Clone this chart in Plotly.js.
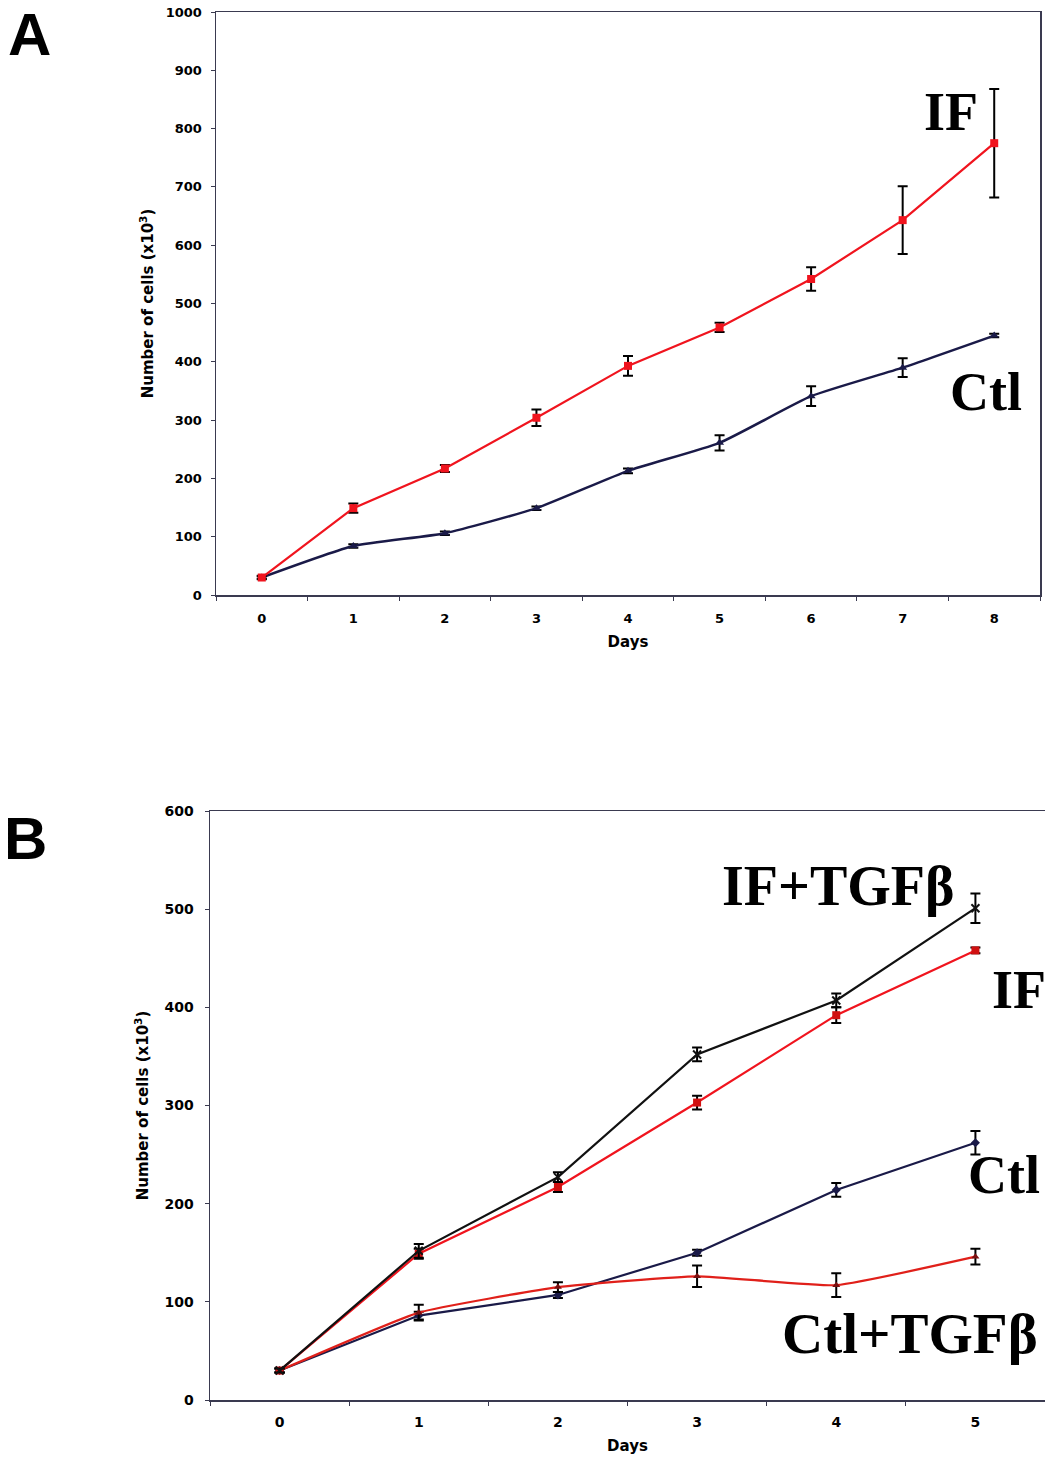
<!DOCTYPE html>
<html>
<head>
<meta charset="utf-8">
<script src="https://cdn.plot.ly/plotly-3.0.1.min.js"></script>
<style>
html,body{margin:0;padding:0;background:#fff;}
#chart{width:1045px;height:1458px;}
</style>
</head>
<body>
<div id="chart"></div>
<script>
// ---------- Data ----------
const daysA = [0, 1, 2, 3, 4, 5, 6, 7, 8];
const ifA = [30, 149, 217, 304, 393, 459, 542, 643, 775];
const ifAErr = [3, 8, 6, 14, 17, 8, 20, 58, 93];
const ctlA = [30, 84, 106, 149, 213, 261, 341, 390, 445];
const ctlAErr = [2, 3, 3, 3, 4, 13, 17, 16, 3];

const daysB = [0, 1, 2, 3, 4, 5];
const ifTgfB = [30, 152, 227, 352, 407, 501];
const ifTgfBErr = [2, 7, 5, 7, 7, 15];
const ifB = [30, 149, 217, 303, 392, 458];
const ifBErr = [2, 5, 5, 7, 8, 3];
const ctlB = [30, 86, 107, 150, 214, 262];
const ctlBErr = [2, 4, 3, 3, 7, 12];
const ctlTgfB = [30, 89, 115, 126, 117, 146];
const ctlTgfBErr = [2, 8, 5, 11, 12, 8];

const xTickA = ['0','1','2','3','4','5','6','7','8'];
const xTickB = ['0','1','2','3','4','5'];
const yTickA = [0,100,200,300,400,500,600,700,800,900,1000];
const yTickB = [0,100,200,300,400,500,600];

// ---------- Styles ----------
const W = 1045, H = 1458;
const px = x => x / W;
const py = y => 1 - y / H;
const RED = '#f0141e';
const NAVY = '#1a1a48';
const tickFont = {family: 'DejaVu Sans', size: 13, color: '#000', weight: 'bold'};
const titleFont = {family: 'DejaVu Sans', size: 15, color: '#000', weight: 'bold'};
const errStyle = (arr) => ({type: 'data', array: arr, visible: true, color: '#000', thickness: 2, width: 5});

const traces = [
  {x: daysA, y: ctlA, xaxis: 'x', yaxis: 'y', mode: 'lines+markers', name: 'Ctl',
   line: {color: NAVY, width: 2.5, shape: 'spline', smoothing: 0.5},
   marker: {symbol: 'triangle-up', size: 8, color: NAVY},
   error_y: errStyle(ctlAErr)},
  {x: daysA, y: ifA, xaxis: 'x', yaxis: 'y', mode: 'lines+markers', name: 'IF',
   line: {color: RED, width: 2.2},
   marker: {symbol: 'square', size: 8, color: RED},
   error_y: errStyle(ifAErr)},
  {x: daysB, y: ctlB, xaxis: 'x2', yaxis: 'y2', mode: 'lines+markers', name: 'Ctl',
   line: {color: NAVY, width: 2.2},
   marker: {symbol: 'diamond', size: 7, color: NAVY},
   error_y: errStyle(ctlBErr)},
  {x: daysB, y: ctlTgfB, xaxis: 'x2', yaxis: 'y2', mode: 'lines+markers', name: 'Ctl+TGFβ',
   line: {color: '#e0201a', width: 2.2, shape: 'spline', smoothing: 0.4},
   marker: {symbol: 'triangle-up', size: 7, color: '#7a1010'},
   error_y: errStyle(ctlTgfBErr)},
  {x: daysB, y: ifB, xaxis: 'x2', yaxis: 'y2', mode: 'lines+markers', name: 'IF',
   line: {color: RED, width: 2.2},
   marker: {symbol: 'square', size: 8, color: '#d01010'},
   error_y: errStyle(ifBErr)},
  {x: daysB, y: ifTgfB, xaxis: 'x2', yaxis: 'y2', mode: 'lines+markers', name: 'IF+TGFβ',
   line: {color: '#111', width: 2.2},
   marker: {symbol: 'x-thin', size: 8, color: '#111', line: {width: 2, color: '#111'}},
   error_y: errStyle(ifTgfBErr)}
];

const axisBase = {
  showgrid: false, zeroline: false, showline: true, mirror: true,
  linecolor: '#3a3a50', linewidth: 1.5, tickfont: tickFont, fixedrange: true
};

const layout = {
  width: W, height: H,
  margin: {l: 0, r: 0, t: 0, b: 0},
  paper_bgcolor: '#fff', plot_bgcolor: '#fff',
  showlegend: false,
  xaxis: Object.assign({}, axisBase, {
    domain: [px(216), px(1040)], anchor: 'y',
    range: [-0.5, 8.5], tickmode: 'array', tickvals: daysA, ticktext: xTickA,
    ticks: '', ticklabelstandoff: 11,
    minor: {tickmode: 'linear', tick0: 0.5, dtick: 1, ticks: 'outside', ticklen: 4, tickcolor: '#3a3a50'},
    title: {text: 'Days', font: titleFont, standoff: 11}
  }),
  yaxis: Object.assign({}, axisBase, {
    domain: [py(595), py(12)], anchor: 'x',
    range: [0, 1000], tickmode: 'array', tickvals: yTickA,
    ticks: 'outside', ticklen: 4, tickcolor: '#3a3a50', ticklabelstandoff: 6,
    title: {text: 'Number of cells (x10<sup>3</sup>)', font: titleFont, standoff: 8}
  }),
  xaxis2: Object.assign({}, axisBase, {
    domain: [px(210), px(1045)], anchor: 'y2',
    range: [-0.5, 5.5], tickmode: 'array', tickvals: daysB, ticktext: xTickB,
    ticks: '', ticklabelstandoff: 9, tickfont: Object.assign({}, tickFont, {size: 14}),
    minor: {tickmode: 'linear', tick0: 0.5, dtick: 1, ticks: 'outside', ticklen: 4, tickcolor: '#3a3a50'},
    title: {text: 'Days', font: titleFont, standoff: 11}
  }),
  yaxis2: Object.assign({}, axisBase, {
    domain: [py(1400), py(811)], anchor: 'x2',
    range: [0, 600], tickmode: 'array', tickvals: yTickB,
    ticks: 'outside', ticklen: 4, tickcolor: '#3a3a50', ticklabelstandoff: 8,
    tickfont: Object.assign({}, tickFont, {size: 14}),
    title: {text: 'Number of cells (x10<sup>3</sup>)', font: titleFont, standoff: 12}
  }),
  annotations: [
    {text: 'A', xref: 'paper', yref: 'paper', x: px(6), y: py(34), xanchor: 'left', yanchor: 'middle',
     showarrow: false, font: {family: 'Liberation Sans', size: 60, color: '#000', weight: 'bold'}},
    {text: 'B', xref: 'paper', yref: 'paper', x: px(2), y: py(838), xanchor: 'left', yanchor: 'middle',
     showarrow: false, font: {family: 'Liberation Sans', size: 60, color: '#000', weight: 'bold'}},
    {text: 'IF', xref: 'paper', yref: 'paper', x: px(951), y: py(112), xanchor: 'center', yanchor: 'middle',
     showarrow: false, font: {family: 'Liberation Serif', size: 54, color: '#000', weight: 'bold'}},
    {text: 'Ctl', xref: 'paper', yref: 'paper', x: px(986), y: py(392), xanchor: 'center', yanchor: 'middle',
     showarrow: false, font: {family: 'Liberation Serif', size: 54, color: '#000', weight: 'bold'}},
    {text: 'IF+TGFβ', xref: 'paper', yref: 'paper', x: px(838), y: py(886), xanchor: 'center', yanchor: 'middle',
     showarrow: false, font: {family: 'Liberation Serif', size: 56, color: '#000', weight: 'bold'}},
    {text: 'IF', xref: 'paper', yref: 'paper', x: px(990), y: py(990), xanchor: 'left', yanchor: 'middle',
     showarrow: false, font: {family: 'Liberation Serif', size: 54, color: '#000', weight: 'bold'}},
    {text: 'Ctl', xref: 'paper', yref: 'paper', x: px(966), y: py(1175), xanchor: 'left', yanchor: 'middle',
     showarrow: false, font: {family: 'Liberation Serif', size: 54, color: '#000', weight: 'bold'}},
    {text: 'Ctl+TGFβ', xref: 'paper', yref: 'paper', x: px(910), y: py(1333), xanchor: 'center', yanchor: 'middle',
     showarrow: false, font: {family: 'Liberation Serif', size: 57, color: '#000', weight: 'bold'}}
  ]
};

Plotly.newPlot('chart', traces, layout, {staticPlot: true, displayModeBar: false});
</script>
</body>
</html>
